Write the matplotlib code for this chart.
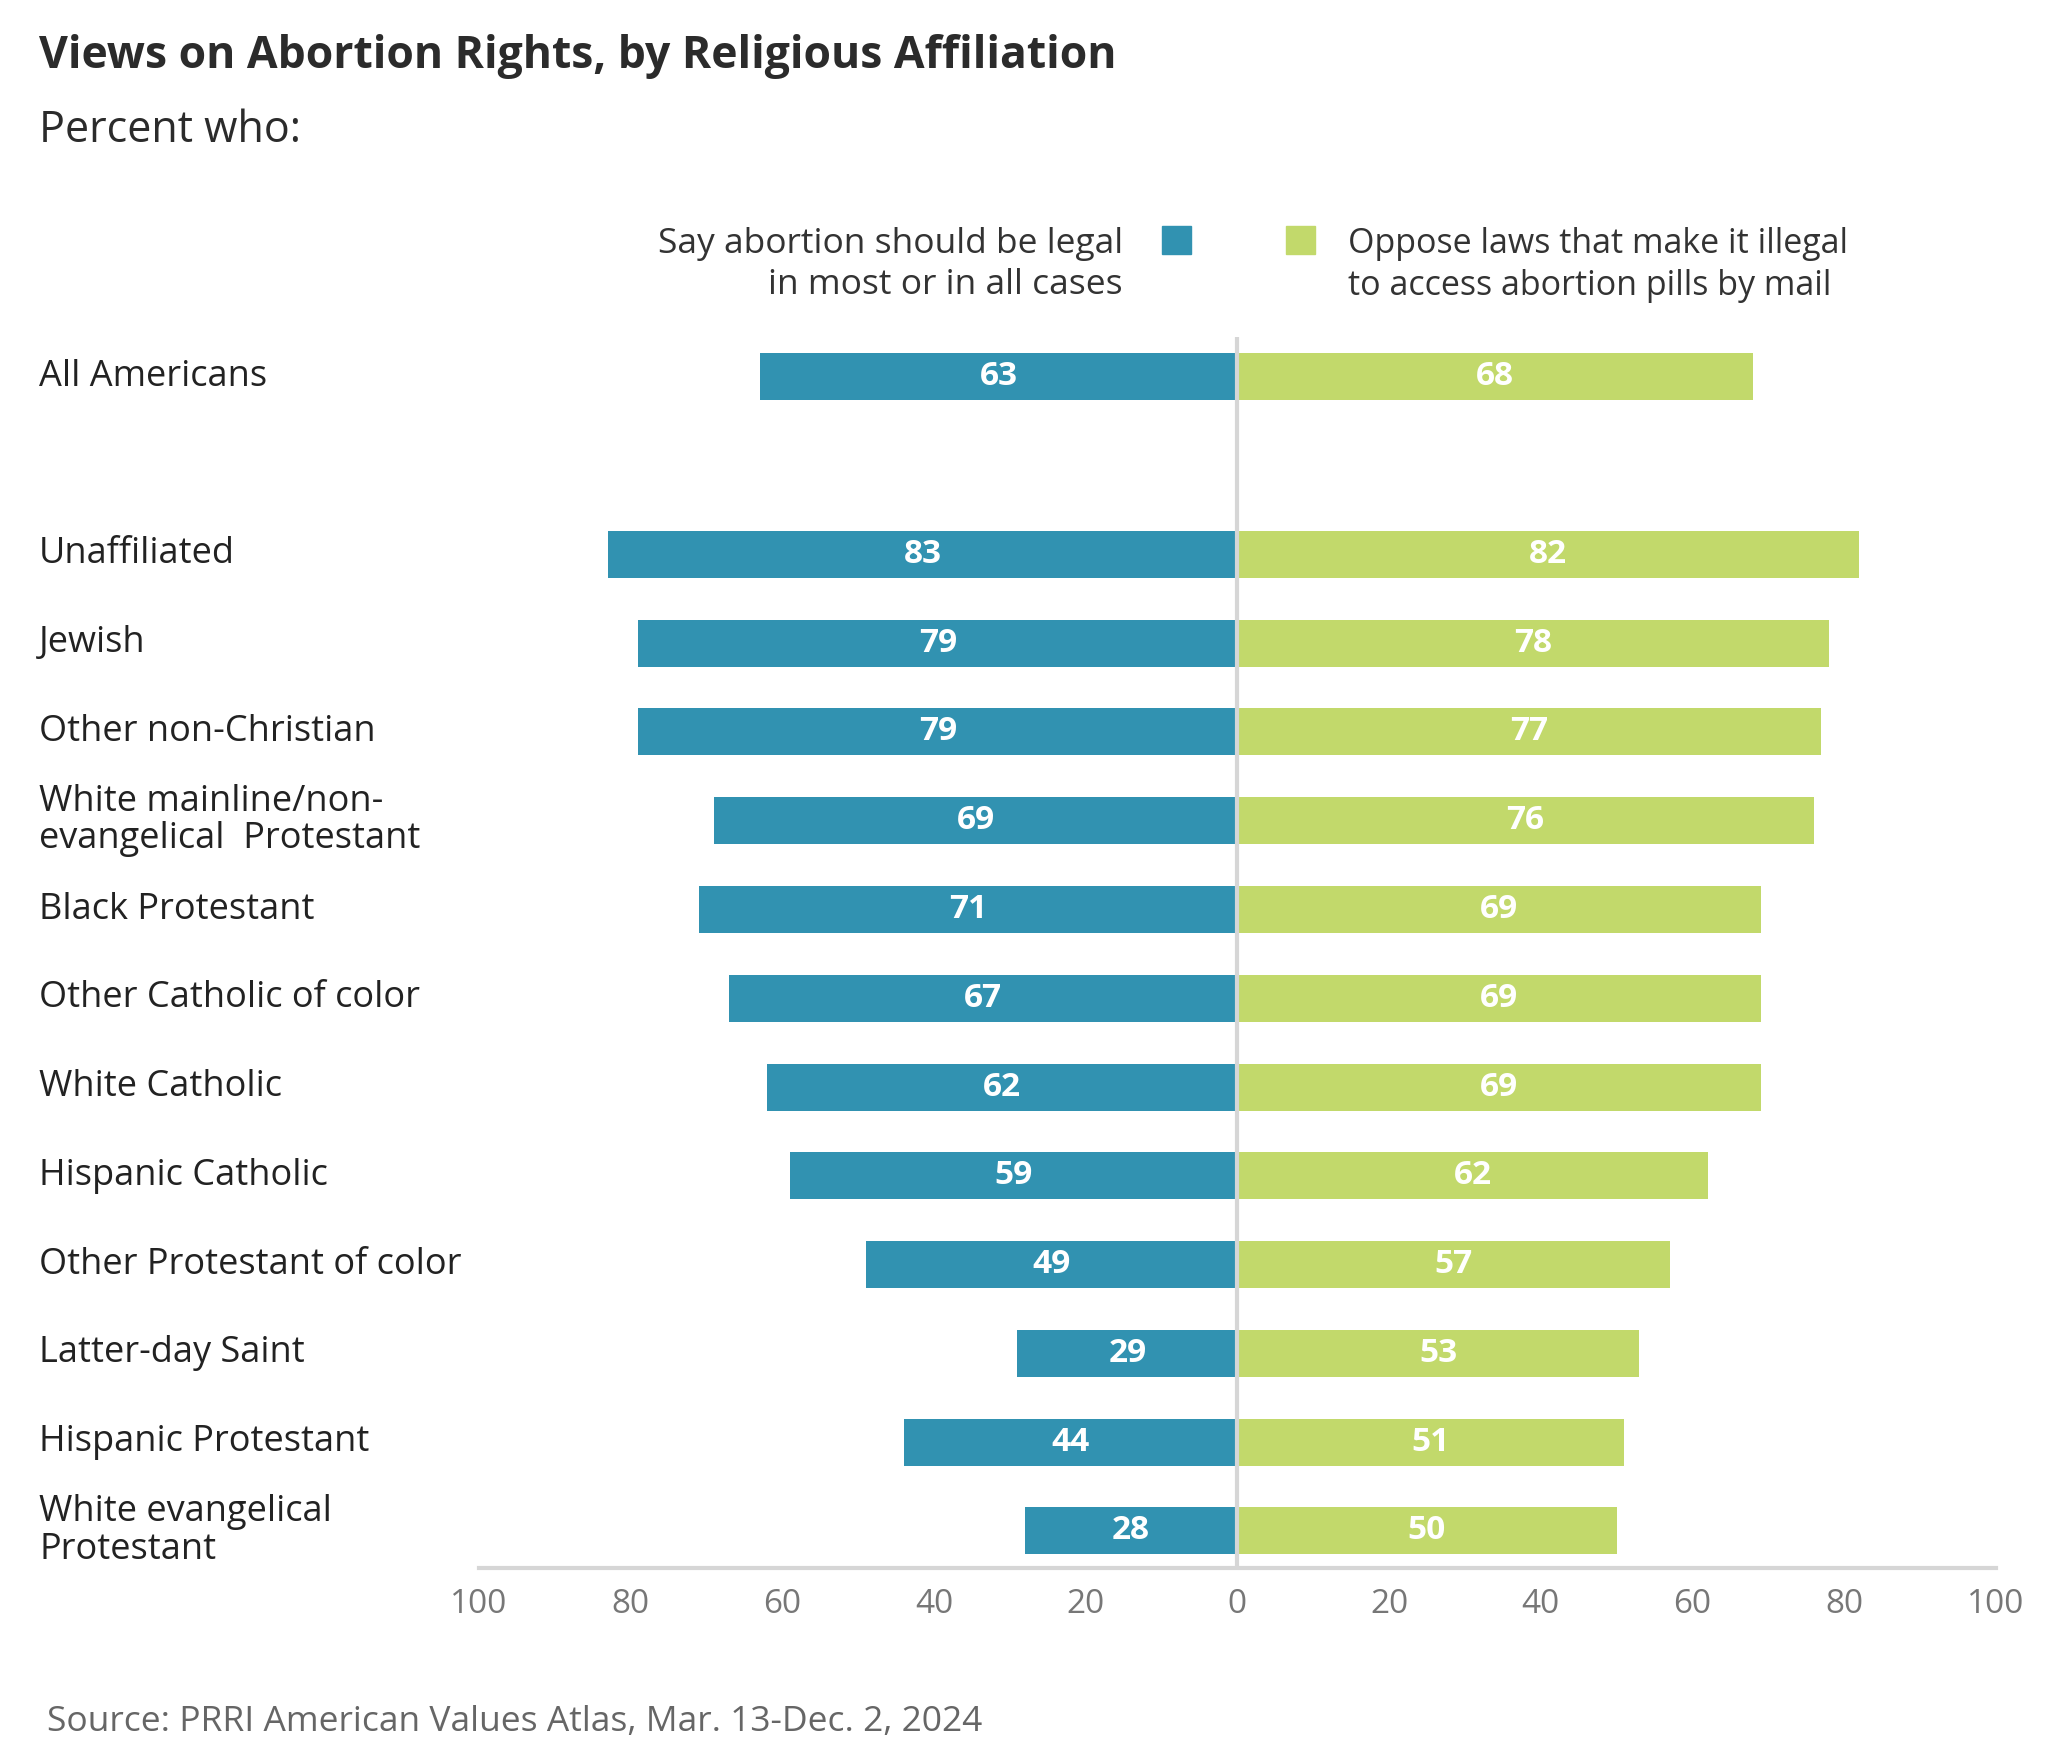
import matplotlib.pyplot as plt
import matplotlib.transforms as mtransforms

plt.rcParams['font.family'] = ['Open Sans', 'DejaVu Sans']

groups = ["All Americans", "Unaffiliated", "Jewish", "Other non-Christian",
          "White mainline/non-\nevangelical  Protestant", "Black Protestant",
          "Other Catholic of color", "White Catholic", "Hispanic Catholic",
          "Other Protestant of color", "Latter-day Saint", "Hispanic Protestant",
          "White evangelical\nProtestant"]
legal = [63, 83, 79, 79, 69, 71, 67, 62, 59, 49, 29, 44, 28]
oppose = [68, 82, 78, 77, 76, 69, 69, 69, 62, 57, 53, 51, 50]
pos = [0] + list(range(2, 14))

blue = '#3192b1'
green = '#c2d96b'

fig = plt.figure(figsize=(20.64, 17.64), dpi=100)
ax = fig.add_axes([0.232, 0.111, 0.735, 0.698])

ax.barh(pos, [-v for v in legal], height=0.53, color=blue)
ax.barh(pos, oppose, height=0.53, color=green)
for p, l, o in zip(pos, legal, oppose):
    ax.text(-l / 2, p, str(l), ha='center', va='center', color='white',
            fontsize=24, fontweight='bold')
    ax.text(o / 2, p, str(o), ha='center', va='center', color='white',
            fontsize=24, fontweight='bold')

ax.axvline(0, color='#d6d6d6', lw=3, zorder=3)
ax.set_xlim(-100, 100)
ax.set_ylim(13.42, -0.45)
ax.set_xticks(range(-100, 101, 20))
ax.set_xticklabels([str(abs(t)) for t in range(-100, 101, 20)], fontsize=24, color='#777777')
ax.set_yticks([])
for s in ['top', 'right', 'left']:
    ax.spines[s].set_visible(False)
ax.spines['bottom'].set_color('#d6d6d6')
ax.spines['bottom'].set_linewidth(3)
ax.tick_params(axis='x', length=0, pad=14)

trans = mtransforms.blended_transform_factory(fig.transFigure, ax.transData)
for p, g in zip(pos, groups):
    ax.text(0.019, p, g, transform=trans, ha='left', va='center',
            fontsize=26, color='#222222', linespacing=1.05)

fig.text(0.019, 0.968, "Views on Abortion Rights, by Religious Affiliation",
         fontsize=32, fontweight='bold', color='#2b2b2b', va='center')
fig.text(0.019, 0.926, "Percent who:", fontsize=31, color='#2b2b2b', va='center')

# legend
fig.text(0.544, 0.850, "Say abortion should be legal\nin most or in all cases",
         ha='right', va='center', fontsize=25.5, color='#333333', linespacing=1.25)
fig.patches.append(plt.Rectangle((0.563, 0.856), 0.014, 0.016, color=blue,
                                 transform=fig.transFigure, figure=fig))
fig.patches.append(plt.Rectangle((0.623, 0.856), 0.014, 0.016, color=green,
                                 transform=fig.transFigure, figure=fig))
fig.text(0.653, 0.850, "Oppose laws that make it illegal\nto access abortion pills by mail",
         ha='left', va='center', fontsize=24.5, color='#333333', linespacing=1.3)

fig.text(0.023, 0.024, "Source: PRRI American Values Atlas, Mar. 13-Dec. 2, 2024",
         fontsize=25.5, color='#666666', va='center')

fig.savefig('out.png', dpi=100)
